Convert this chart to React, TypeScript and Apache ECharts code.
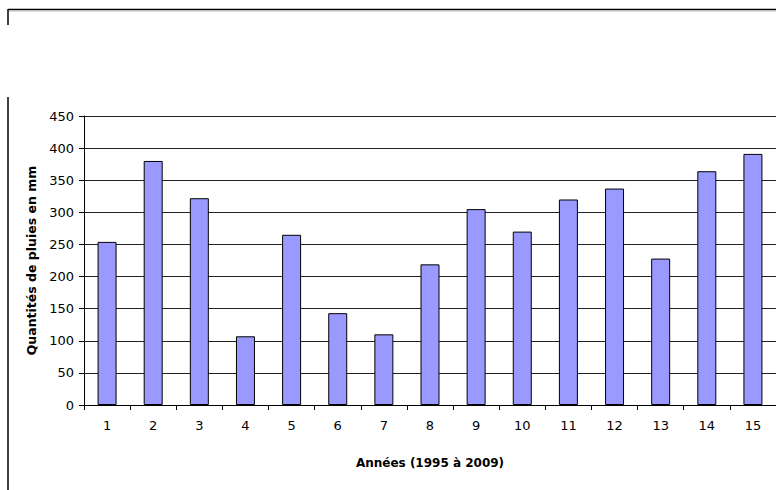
import React, { useEffect, useRef } from "react";
import * as echarts from "echarts";

const categories = ["1", "2", "3", "4", "5", "6", "7", "8", "9", "10", "11", "12", "13", "14", "15"];
const rainfall = [254, 380, 322, 107, 265, 143, 110, 219, 305, 270, 320, 337, 228, 364, 391];
const yAxisTitle = "Quantités de pluies en mm";
const xAxisTitle = "Années (1995 à 2009)";

export default function App() {
  const ref = useRef<HTMLDivElement>(null);
  useEffect(() => {
    document.body.style.margin = "0";
    const chart = echarts.init(ref.current!, null, { renderer: "svg" });
    chart.setOption({
      animation: false,
      backgroundColor: "#fff",
      textStyle: { fontFamily: "DejaVu Sans" },
      grid: { left: 84, right: 0, top: 116, bottom: 85 },
      xAxis: {
        type: "category",
        data: categories,
        name: xAxisTitle,
        nameLocation: "middle",
        nameGap: 52,
        nameTextStyle: { fontFamily: "DejaVu Sans", fontWeight: "bold", fontSize: 12, color: "#000" },
        axisLine: { lineStyle: { color: "#000", width: 1 } },
        axisTick: { show: true, alignWithLabel: false, length: 5, lineStyle: { color: "#000" } },
        axisLabel: { margin: 14, fontSize: 13, color: "#000", fontFamily: "DejaVu Sans" },
        splitLine: { show: false },
      },
      yAxis: {
        type: "value",
        min: 0,
        max: 450,
        interval: 50,
        name: yAxisTitle,
        nameLocation: "middle",
        nameGap: 46,
        nameTextStyle: { fontFamily: "DejaVu Sans", fontWeight: "bold", fontSize: 12.5, color: "#000" },
        axisLine: { show: true, lineStyle: { color: "#000", width: 1 } },
        axisTick: { show: true, length: 5, lineStyle: { color: "#000" } },
        axisLabel: { margin: 10, fontSize: 13, color: "#000", fontFamily: "DejaVu Sans" },
        splitLine: { show: true, lineStyle: { color: "#222", width: 1 } },
      },
      series: [
        {
          type: "bar",
          data: rainfall,
          barWidth: 19,
          itemStyle: { color: "#9999FF", borderColor: "#000", borderWidth: 1 },
        },
      ],
      graphic: [
        { type: "line", shape: { x1: 8, y1: 9.5, x2: 776, y2: 9.5 }, style: { stroke: "#000", lineWidth: 1.5 } },
        { type: "line", shape: { x1: 8, y1: 11, x2: 776, y2: 11 }, style: { stroke: "#bbb", lineWidth: 1 } },
        { type: "line", shape: { x1: 8, y1: 9, x2: 8, y2: 25 }, style: { stroke: "#000", lineWidth: 1.5 } },
        { type: "line", shape: { x1: 8, y1: 97, x2: 8, y2: 490 }, style: { stroke: "#000", lineWidth: 1.5 } },
      ],
    });
    return () => chart.dispose();
  }, []);
  return <div ref={ref} style={{ width: 776, height: 490 }} />;
}
